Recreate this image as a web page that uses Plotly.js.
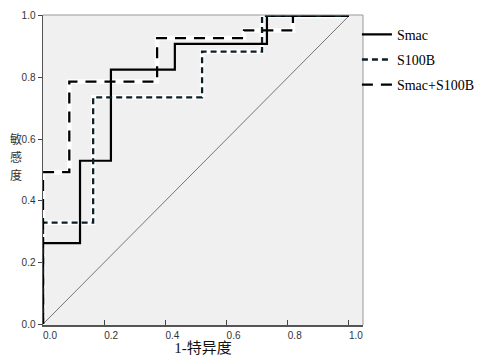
<!DOCTYPE html>
<html>
<head>
<meta charset="utf-8">
<script src="https://cdn.plot.ly/plotly-3.0.1.min.js"></script>
<style>html,body{margin:0;padding:0;background:#fff;}#chart{width:480px;height:356px;}</style>
</head>
<body>
<div id="chart"></div>
<script>
// Data
var seriesNames = ["Smac", "S100B", "Smac+S100B"];
var smacFpr = [0, 0, 0.121, 0.222, 0.431, 0.732, 1];
var smacTpr = [0, 0.263, 0.530, 0.826, 0.909, 1.0, 1.0];
var s100bFpr = [0, 0, 0.164, 0.520, 0.716, 1];
var s100bTpr = [0, 0.329, 0.736, 0.884, 1.0, 1.0];
var comboFpr = [0, 0, 0.086, 0.373, 0.657, 0.817, 1];
var comboTpr = [0, 0.493, 0.787, 0.928, 0.953, 1.0, 1.0];
var refLine = [0, 1];
var tickVals = [0, 0.2, 0.4, 0.6, 0.8, 1.0];
var tickText = ["0.0", "0.2", "0.4", "0.6", "0.8", "1.0"];
var yTitleChars = ["敏", "感", "度"];

var traces = [
  {x: s100bFpr, y: s100bTpr, mode: "lines", line: {shape: "hv", color: "#ffffff", width: 4.5}, showlegend: false, hoverinfo: "skip"},
  {x: comboFpr, y: comboTpr, mode: "lines", line: {shape: "hv", color: "#ffffff", width: 4.5}, showlegend: false, hoverinfo: "skip"},
  {x: refLine, y: refLine, mode: "lines", line: {color: "#555555", width: 0.8}, showlegend: false, hoverinfo: "skip"},
  {x: smacFpr, y: smacTpr, name: seriesNames[0], legendgroup: "a", mode: "lines", line: {shape: "hv", color: "#000000", width: 2.2}},
  {x: s100bFpr, y: s100bTpr, name: seriesNames[1], legendgroup: "b", mode: "lines", line: {shape: "hv", color: "#0b1f26", width: 2.3, dash: "6px,4px"}},
  {x: comboFpr, y: comboTpr, name: seriesNames[2], legendgroup: "c", mode: "lines", line: {shape: "hv", color: "#000000", width: 2.3, dash: "11px,8px"}}
];

var annotations = yTitleChars.map(function (ch, i) {
  return {text: ch, xref: "paper", yref: "paper", x: -0.084, y: 0.542 + (1 - i) * 0.058, xanchor: "center", yanchor: "middle",
          showarrow: false, borderpad: 0, font: {family: "Noto Sans CJK SC, sans-serif", size: 12, color: "#333"}};
});

var layout = {
  width: 480, height: 356,
  margin: {l: 43, r: 117, t: 15, b: 31, pad: 0, autoexpand: false},
  paper_bgcolor: "#ffffff",
  plot_bgcolor: "#f0f0f0",
  showlegend: true,
  legend: {x: 0.981, xanchor: "left", y: 0.988, yanchor: "top", traceorder: "grouped", tracegroupgap: 4,
           font: {family: "Liberation Serif, serif", size: 14, color: "#000"}, bgcolor: "rgba(0,0,0,0)"},
  xaxis: {range: [0, 1.046], tickvals: tickVals, ticktext: tickText, ticks: "inside", ticklen: 5, tickcolor: "#444",
          ticklabelshift: 7,
          showgrid: false, zeroline: false, showline: true, linecolor: "#555", linewidth: 1.5, mirror: false,
          tickfont: {family: "Liberation Sans, Arial, sans-serif", size: 10, color: "#333"},
          title: {text: "1-特异度", font: {family: "Liberation Serif, Noto Sans CJK SC, serif", size: 15, color: "#111"}, standoff: 0}},
  yaxis: {range: [-0.003, 1.003], tickvals: tickVals, ticktext: tickText, ticks: "outside", ticklen: 4, tickcolor: "#444",
          showgrid: false, zeroline: false, showline: true, linecolor: "#555", linewidth: 1.5,
          tickfont: {family: "Liberation Sans, Arial, sans-serif", size: 10, color: "#333"}},
  shapes: [
    {type: "line", xref: "paper", yref: "paper", x0: 0, x1: 1, y0: 1, y1: 1, line: {color: "#999", width: 1}},
    {type: "line", xref: "paper", yref: "paper", x0: 1, x1: 1, y0: 0, y1: 1, line: {color: "#999", width: 1}}
  ],
  annotations: annotations
};

Plotly.newPlot("chart", traces, layout, {displayModeBar: false, staticPlot: true});
</script>
</body>
</html>
